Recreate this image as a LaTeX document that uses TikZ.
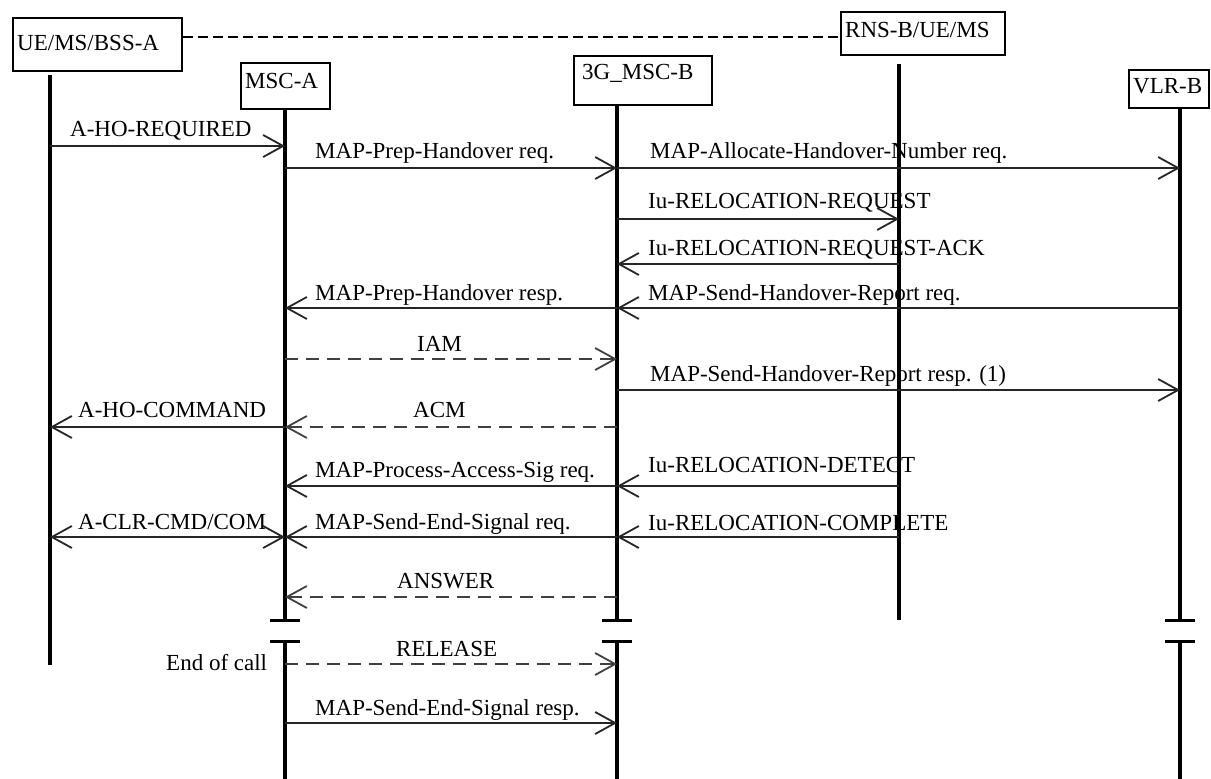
\documentclass[tikz,border=0pt]{standalone}
\usepackage{fontspec}
\setmainfont{Liberation Serif}
\usetikzlibrary{arrows.meta}
\begin{document}
\begin{tikzpicture}[x=1pt,y=-1pt,
  every node/.style={font=\fontsize{23}{27}\selectfont, inner sep=0pt},
  box/.style={draw, line width=1.8pt, anchor=north west, inner sep=0pt},
  life/.style={line width=3.2pt},
  brk/.style={line width=3pt},
  msg/.style={line width=1.8pt, draw=black!85, -{Straight Barb[length=20pt,width=22pt]}},
  dmsg/.style={msg, dash pattern=on 13pt off 8pt, draw=black!75},
  both/.style={msg, {Straight Barb[length=20pt,width=22pt]}-{Straight Barb[length=20pt,width=22pt]}},
  lbl/.style={anchor=base west}]
\useasboundingbox (0,0) rectangle (1211,779);

% entity boxes
\node[box, minimum width=169pt, minimum height=53pt] (ue)  at (12,17)   {};
\node[box, minimum width=89pt,  minimum height=46pt] (msca) at (240,62) {};
\node[box, minimum width=138pt, minimum height=49pt] (mscb) at (573,55) {};
\node[box, minimum width=164pt, minimum height=43pt] (rns) at (840,11)  {};
\node[box, minimum width=80pt,  minimum height=38pt] (vlr) at (1128,69) {};
\node[lbl] (ueT)   at (17,50)   {UE/MS/BSS-A};
\node[lbl] (mscaT) at (245,88)  {MSC-A};
\node[lbl] (mscbT) at (582,79)  {3G\_MSC-B};
\node[lbl] (rnsT)  at (845,37)  {RNS-B/UE/MS};
\node[lbl] (vlrT)  at (1133,93) {VLR-B};

% radio link between the two terminals
\coordinate (dl) at (0,37);
\draw[line width=1.6pt, dash pattern=on 10pt off 5pt] (ue.east |- dl) -- (rns.west |- dl);

% lifeline tops
\coordinate (lU) at (50,75);
\coordinate (lA) at (285,108);
\coordinate (lB) at (617,105);
\coordinate (lR) at (899,64);
\coordinate (lV) at (1180,107);
% lifeline ends and break rows
\coordinate (eU) at (0,665);
\coordinate (b1) at (0,620);
\coordinate (b2) at (0,641);
\coordinate (bot) at (0,779);

\draw[life] (lU) -- (lU |- eU);
\draw[life] (lA) -- (lA |- b1);
\draw[life] (lA |- b2) -- (lA |- bot);
\draw[life] (lB) -- (lB |- b1);
\draw[life] (lB |- b2) -- (lB |- bot);
\draw[life] (lR) -- (lR |- b1);
\draw[life] (lV) -- (lV |- b1);
\draw[life] (lV |- b2) -- (lV |- bot);

% break ticks
\foreach \l in {lA,lB,lV}{
  \draw[brk] (\l |- b1) +(-15,0) -- +(15,0);
  \draw[brk] (\l |- b2) +(-15,0) -- +(15,0);
}

% message rows
\coordinate (r1) at (0,146);
\coordinate (r2) at (0,168);
\coordinate (r3) at (0,219);
\coordinate (r4) at (0,264);
\coordinate (r5) at (0,308);
\coordinate (r6) at (0,359);
\coordinate (r7) at (0,390);
\coordinate (r8) at (0,427);
\coordinate (r9) at (0,486);
\coordinate (r10) at (0,537);
\coordinate (r11) at (0,597);
\coordinate (r12) at (0,664);
\coordinate (r13) at (0,723);

\draw[msg] (lU |- r1) -- (lA |- r1);
\node[lbl] at (70,136) {A-HO-REQUIRED};

\draw[msg] (lA |- r2) -- (lB |- r2);
\node[lbl] at (315,158) {MAP-Prep-Handover req.};
\draw[msg] (lB |- r2) -- (lV |- r2);
\node[lbl] at (650,158) {MAP-Allocate-Handover-Number req.};

\draw[msg] (lB |- r3) -- (lR |- r3);
\node[lbl] at (648,208) {Iu-RELOCATION-REQUEST};

\draw[msg] (lR |- r4) -- (lB |- r4);
\node[lbl] at (648,255) {Iu-RELOCATION-REQUEST-ACK};

\draw[msg] (lB |- r5) -- (lA |- r5);
\node[lbl] at (315,300) {MAP-Prep-Handover resp.};
\draw[msg] (lV |- r5) -- (lB |- r5);
\node[lbl] at (648,300) {MAP-Send-Handover-Report req.};

\draw[dmsg] (lA |- r6) -- (lB |- r6);
\node[lbl] at (417,351) {IAM};

\draw[msg] (lB |- r7) -- (lV |- r7);
\node[lbl] at (650,381) {MAP-Send-Handover-Report resp. (1)};

\draw[msg] (lA |- r8) -- (lU |- r8);
\node[lbl] at (78,417) {A-HO-COMMAND};
\draw[dmsg] (lB |- r8) -- (lA |- r8);
\node[lbl] at (413,417) {ACM};

\draw[msg] (lB |- r9) -- (lA |- r9);
\node[lbl] at (315,477) {MAP-Process-Access-Sig req.};
\draw[msg] (lR |- r9) -- (lB |- r9);
\node[lbl] at (648,472) {Iu-RELOCATION-DETECT};

\draw[both] (lU |- r10) -- (lA |- r10);
\node[lbl] at (78,529) {A-CLR-CMD/COM};
\draw[msg] (lB |- r10) -- (lA |- r10);
\node[lbl] at (315,529) {MAP-Send-End-Signal req.};
\draw[msg] (lR |- r10) -- (lB |- r10);
\node[lbl] at (648,530) {Iu-RELOCATION-COMPLETE};

\draw[dmsg] (lB |- r11) -- (lA |- r11);
\node[lbl] at (397,588) {ANSWER};

\draw[dmsg] (lA |- r12) -- (lB |- r12);
\node[lbl] at (396,656) {RELEASE};
\node[lbl] at (166,670) {End of call};

\draw[msg] (lA |- r13) -- (lB |- r13);
\node[lbl] at (315,715) {MAP-Send-End-Signal resp.};
\end{tikzpicture}
\end{document}
